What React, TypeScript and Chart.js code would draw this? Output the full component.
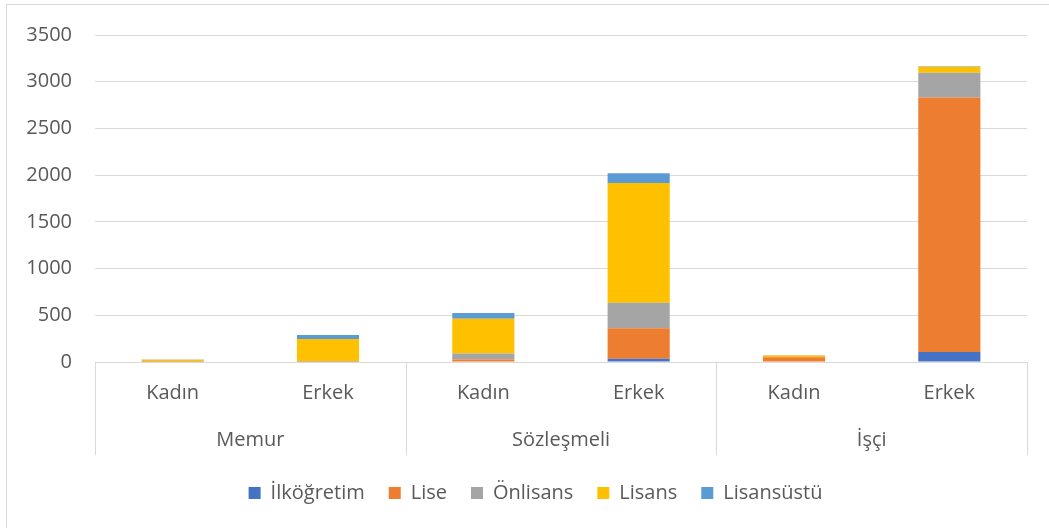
import React, { useEffect, useRef } from "react";
import { Chart, registerables } from "chart.js";

Chart.register(...registerables);

const groups = ["Memur", "Sözleşmeli", "İşçi"];
const genders = ["Kadın", "Erkek"];
const categories = ["Memur Kadın", "Memur Erkek", "Sözleşmeli Kadın", "Sözleşmeli Erkek", "İşçi Kadın", "İşçi Erkek"];

const ilkogretim = [0, 0, 5, 35, 5, 107];
const lise = [3, 3, 22, 325, 45, 2723];
const onlisans = [2, 5, 64, 273, 2, 267];
const lisans = [18, 237, 373, 1284, 18, 64];
const lisansustu = [3, 43, 60, 103, 1, 5];

const seriesNames = ["İlköğretim", "Lise", "Önlisans", "Lisans", "Lisansüstü"];
const seriesColors = ["#4472C4", "#ED7D31", "#A5A5A5", "#FFC000", "#5B9BD5"];
const yTicks = [0, 500, 1000, 1500, 2000, 2500, 3000, 3500];

const FONT = "'Open Sans', 'Noto Sans', sans-serif";
const TEXT = "#595959";
const LINE = "#d9d9d9";
const AXIS_H = 97;
const SEP_H = 93;
const LEGEND_SHIFT = 22;

const multiLevelAxis = {
  id: "multiLevelAxis",
  afterLayout(chart: any) {
    if (chart.legend) {
      chart.legend.left += LEGEND_SHIFT;
      chart.legend.right += LEGEND_SHIFT;
    }
  },
  afterDraw(chart: any) {
    const ctx = chart.ctx;
    const x = chart.scales.x;
    const area = chart.chartArea;
    const n = categories.length;
    const slot = (area.right - area.left) / n;
    const bottom = area.bottom;
    ctx.save();
    // outer border
    ctx.strokeStyle = LINE;
    ctx.lineWidth = 1;
    ctx.beginPath();
    ctx.moveTo(6.5, 600);
    ctx.lineTo(6.5, 4.5);
    ctx.lineTo(1100, 4.5);
    ctx.stroke();
    // separators
    ctx.beginPath();
    const bounds = [0, 2, 4, 6];
    bounds.forEach((b) => {
      const px = Math.round(area.left + b * slot) + 0.5;
      ctx.moveTo(px, bottom);
      ctx.lineTo(px, bottom + SEP_H);
    });
    ctx.stroke();
    ctx.fillStyle = TEXT;
    ctx.font = `20px ${FONT}`;
    ctx.textAlign = "center";
    ctx.textBaseline = "middle";
    categories.forEach((_, i) => {
      const cx = x.getPixelForValue(i);
      ctx.fillText(genders[i % 2], cx, bottom + 31);
    });
    groups.forEach((g, gi) => {
      const cx = (x.getPixelForValue(gi * 2) + x.getPixelForValue(gi * 2 + 1)) / 2;
      ctx.fillText(g, cx, bottom + 78);
    });
    ctx.restore();
  },
};

export default function App() {
  const ref = useRef<HTMLCanvasElement>(null);
  useEffect(() => {
    document.body.style.margin = "0";
    const values = [ilkogretim, lise, onlisans, lisans, lisansustu];
    const chart = new Chart(ref.current!, {
      type: "bar",
      data: {
        labels: categories,
        datasets: seriesNames.map((name, i) => ({
          label: name,
          data: values[i],
          backgroundColor: seriesColors[i],
          borderWidth: 0,
          barPercentage: 0.4,
          categoryPercentage: 1,
        })),
      },
      options: {
        animation: false,
        responsive: false,
        maintainAspectRatio: false,
        layout: { padding: { left: 0, right: 22, top: 34, bottom: 15 } },
        scales: {
          x: {
            stacked: true,
            ticks: { display: false },
            grid: { display: false },
            border: { display: false },
            afterFit(scale: any) {
              scale.height = AXIS_H;
            },
          },
          y: {
            stacked: true,
            min: 0,
            max: 3500,
            afterBuildTicks(scale: any) {
              scale.ticks = yTicks.map((v) => ({ value: v }));
            },
            ticks: {
              color: TEXT,
              font: { family: FONT, size: 20 },
              padding: 23,
              callback: (v: any) => String(v),
            },
            grid: { color: LINE, lineWidth: 1, drawTicks: false },
            border: { display: false },
            afterFit(scale: any) {
              scale.width = 95;
            },
          },
        },
        plugins: {
          legend: {
            position: "bottom",
            labels: {
              boxWidth: 12,
              boxHeight: 12,
              padding: 24,
              color: TEXT,
              font: { family: FONT, size: 20 },
            },
          },
          tooltip: { enabled: false },
        },
      },
      plugins: [multiLevelAxis],
    });
    return () => chart.destroy();
  }, []);
  return (
    <div style={{ width: 1049, height: 528, background: "#fff" }}>
      <canvas ref={ref} width={1049} height={528} style={{ display: "block" }} />
    </div>
  );
}
